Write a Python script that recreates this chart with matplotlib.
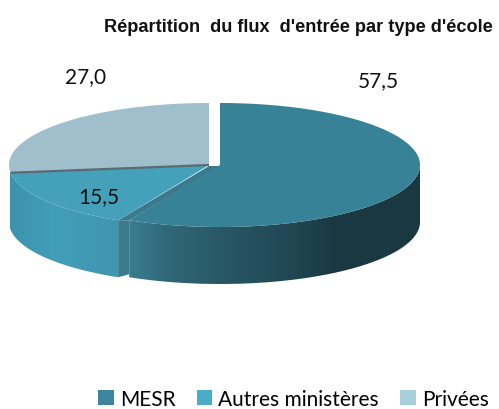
import numpy as np
import matplotlib
matplotlib.use("Agg")
import matplotlib.pyplot as plt
from matplotlib.colors import LinearSegmentedColormap
from matplotlib.patches import Polygon, Patch

title = "Répartition  du flux  d'entrée par type d'école"
categories = ["MESR", "Autres ministères", "Privées"]
values = [57.5, 15.5, 27.0]
value_labels = ["57,5", "15,5", "27,0"]
top_colors = ["#378296", "#45a0ba", "#a0bfcc"]
legend_colors = ["#3b869c", "#4bacc6", "#a9cfdd"]

# ellipse of the pie in pixels
A, B, DEPTH = 200, 62, 57
centers = [(220, 166), (209, 166), (209, 166)]


def arc(cx, cy, t0, t1, dy=0):
    """ Points of the ellipse, angle in degrees clockwise from the top """
    t = np.radians(np.linspace(t0, t1, 200))
    return np.column_stack([cx + A * np.sin(t), cy + dy - B * np.cos(t)])


def gradient_side(ax, poly, x0, x1, stops):
    cmap = LinearSegmentedColormap.from_list("side", stops)
    ramp = np.linspace(0, 1, 256).reshape(1, -1)
    im = ax.imshow(ramp, cmap=cmap, extent=(x0, x1, 300, 100), aspect="auto", zorder=2)
    patch = Polygon(poly, closed=True, transform=ax.transData, fc="none", ec="none")
    ax.add_patch(patch)
    im.set_clip_path(patch)


fig = plt.figure(figsize=(4.99, 4.10), dpi=100)
ax = fig.add_axes([0, 0, 1, 1])
ax.set_xlim(0, 499)
ax.set_ylim(410, 0)
ax.axis("off")

angles = np.concatenate([[0], np.cumsum(values) * 3.6])

# sides
cx, cy = centers[0]
front = arc(cx, cy, 90, angles[1])
back = arc(cx, cy, angles[1], 90, DEPTH)
gradient_side(ax, np.vstack([front, back]), 129, 420,
              [(0, "#3a7d90"), (0.12, "#30697a"), (0.35, "#285562"),
               (0.6, "#1f4450"), (0.7, "#1a3943"), (1, "#193842")])

cx, cy = centers[1]
front = arc(cx, cy, angles[1], 270)
back = arc(cx, cy, 270, angles[1], DEPTH)
gradient_side(ax, np.vstack([front, back]), 10, 119,
              [(0, "#3c93ac"), (0.4, "#429eb9"), (1, "#3f96ae")])

# cut face seen between the exploded slices
r0 = arc(centers[1][0], centers[1][1], angles[1], angles[1])[0]
r1 = arc(centers[0][0], centers[0][1], angles[1], angles[1])[0]
ax.add_patch(Polygon([r0, r1, (r1[0], r1[1] + DEPTH - 3), (r0[0], r0[1] + DEPTH)],
                     closed=True, fc="#3a7a8c", ec="none", zorder=3))
ax.add_patch(Polygon([r0, r1, (centers[0][0], centers[0][1] + 1), (centers[1][0], centers[1][1] + 1)],
                     closed=True, fc="#3a7a8c", ec="none", zorder=3))

# tops
for i in range(3):
    cx, cy = centers[i]
    pts = np.vstack([[cx, cy], arc(cx, cy, angles[i], angles[i + 1])])
    ax.add_patch(Polygon(pts, closed=True, fc=top_colors[i], ec="none", zorder=4))

# dark line between Autres and Privées
edge = arc(centers[2][0], centers[2][1], angles[2], angles[2])[0]
ax.plot([centers[2][0], edge[0]], [centers[2][1], edge[1]], color="#5c6a74", lw=1.6,
        zorder=5, solid_capstyle="butt")

ax.text(298.5, 27, title, ha="center", va="center", fontsize=13.1, fontweight="bold",
        family="Liberation Sans", color="#111111")
label_pos = [(378, 81), (99, 197), (86, 77)]
for pos, lab in zip(label_pos, value_labels):
    ax.text(pos[0], pos[1], lab, ha="center", va="center", fontsize=15,
            family="Lato", color="#111111", zorder=6)

handles = [Patch(fc=c, ec="none") for c in legend_colors]
leg = ax.legend(handles, categories, ncols=3, loc="center", bbox_to_anchor=(293.5, 400),
                bbox_transform=ax.transData, frameon=False,
                prop={"family": "Lato", "size": 15}, handlelength=0.75, handleheight=0.75,
                handletextpad=0.3, columnspacing=1.0)

fig.savefig("out.png", dpi=100)
